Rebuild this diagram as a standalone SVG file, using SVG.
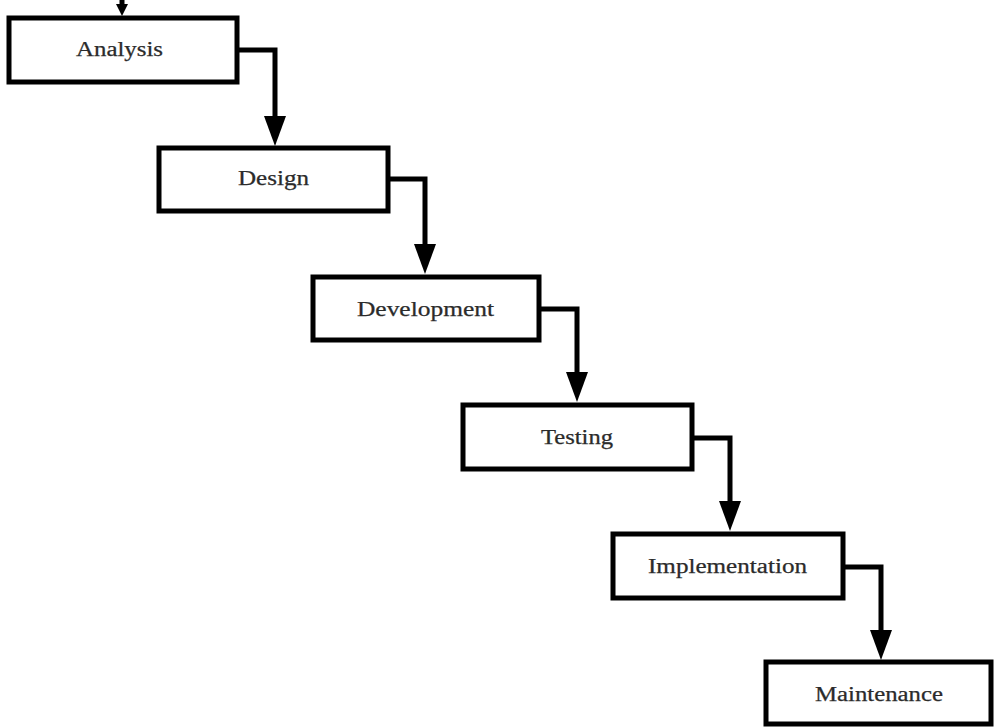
<svg xmlns="http://www.w3.org/2000/svg" width="994" height="728" viewBox="0 0 994 728">
  <defs>
    <style>
      .box { fill: #ffffff; stroke: #000000; stroke-width: 5; }
      .lbl { font-family: "Liberation Serif", "Times New Roman", serif; font-size: 20px; fill: #2b2b2b; stroke: #2b2b2b; stroke-width: 0.25; text-anchor: start; }
      .wire { fill: none; stroke: #000000; stroke-width: 5; stroke-linejoin: miter; }
      .head { fill: #000000; }
    </style>
  </defs>
  <rect width="994" height="728" fill="#ffffff"/>

  <!-- connectors: elbow lines with filled triangular heads -->
  <g id="connectors">
    <path class="wire" d="M122,0 V8"/>
    <polygon class="head" points="116,4 128,4 122,16"/>

    <path class="wire" d="M237,50 H275 V118"/>
    <polygon class="head" points="264,116 286,116 275,146"/>

    <path class="wire" d="M388,179 H425 V246"/>
    <polygon class="head" points="414,244 436,244 425,274"/>

    <path class="wire" d="M539,309 H577 V374"/>
    <polygon class="head" points="566,372 588,372 577,402"/>

    <path class="wire" d="M692,438 H730 V503"/>
    <polygon class="head" points="719,501 741,501 730,531"/>

    <path class="wire" d="M843,567 H881 V632"/>
    <polygon class="head" points="870,630 892,630 881,660"/>
  </g>

  <g id="analysis">
    <rect class="box" x="9" y="18" width="228" height="64"/>
    <text class="lbl" x="76" y="56" textLength="87" lengthAdjust="spacingAndGlyphs">Analysis</text>
  </g>
  <g id="design">
    <rect class="box" x="159" y="148" width="229" height="63"/>
    <text class="lbl" x="238" y="185" textLength="71" lengthAdjust="spacingAndGlyphs">Design</text>
  </g>
  <g id="development">
    <rect class="box" x="313" y="277" width="226" height="63"/>
    <text class="lbl" x="357" y="316" textLength="137" lengthAdjust="spacingAndGlyphs">Development</text>
  </g>
  <g id="testing">
    <rect class="box" x="463" y="405" width="229" height="64"/>
    <text class="lbl" x="541" y="444" textLength="72" lengthAdjust="spacingAndGlyphs">Testing</text>
  </g>
  <g id="implementation">
    <rect class="box" x="613" y="534" width="230" height="64"/>
    <text class="lbl" x="648" y="573" textLength="159" lengthAdjust="spacingAndGlyphs">Implementation</text>
  </g>
  <g id="maintenance">
    <rect class="box" x="766" y="662" width="225" height="62"/>
    <text class="lbl" x="815" y="701" textLength="128" lengthAdjust="spacingAndGlyphs">Maintenance</text>
  </g>
</svg>
